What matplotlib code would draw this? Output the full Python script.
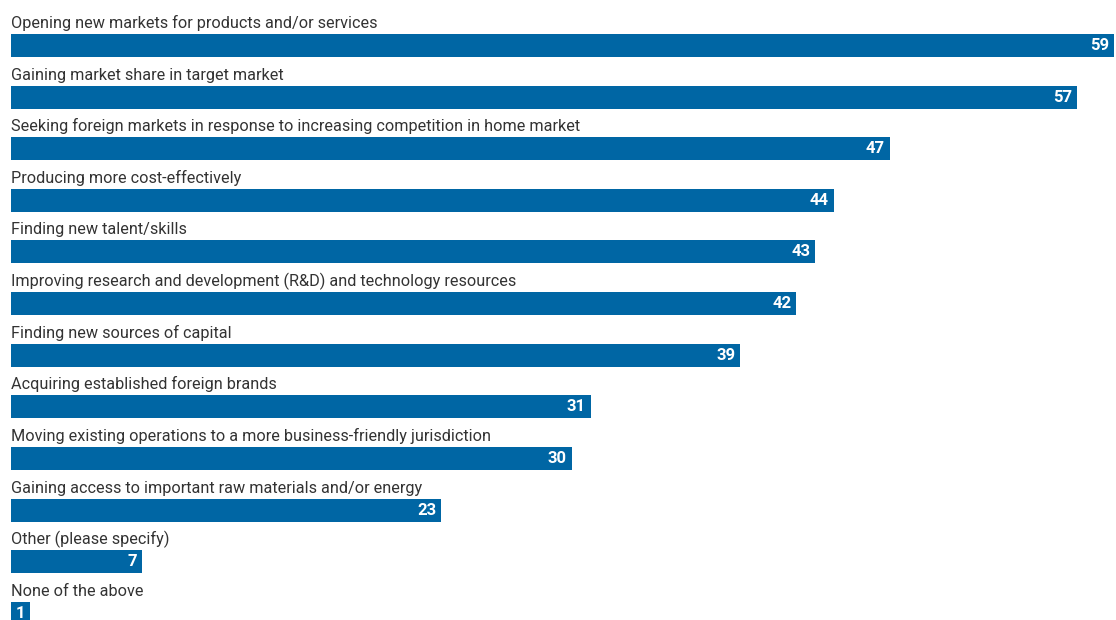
import matplotlib
matplotlib.use("Agg")
import matplotlib.pyplot as plt
from matplotlib.transforms import offset_copy

reasons = [
    "Opening new markets for products and/or services",
    "Gaining market share in target market",
    "Seeking foreign markets in response to increasing competition in home market",
    "Producing more cost-effectively",
    "Finding new talent/skills",
    "Improving research and development (R&D) and technology resources",
    "Finding new sources of capital",
    "Acquiring established foreign brands",
    "Moving existing operations to a more business-friendly jurisdiction",
    "Gaining access to important raw materials and/or energy",
    "Other (please specify)",
    "None of the above",
]
shares = [59, 57, 47, 44, 43, 42, 39, 31, 30, 23, 7, 1]

BAR_COLOR = "#0066a4"
TEXT_COLOR = "#333333"
FONTS = ["Roboto", "DejaVu Sans"]

fig = plt.figure(figsize=(11.16, 6.2), dpi=100)
ax = fig.add_axes([0, 0, 1, 1])

positions = list(range(len(reasons)))
ax.barh(positions, shares, height=0.446, color=BAR_COLOR, left=0)

for pos, label, value in zip(positions, reasons, shares):
    # category name sits just above its bar
    ax.text(0, pos - 0.34, label, ha="left", va="baseline",
            fontsize=11.7, color=TEXT_COLOR, family=FONTS)
    # value tucked inside the right end of the bar
    tr = offset_copy(ax.transData, fig=fig, x=-5, y=0, units="dots")
    ax.text(value, pos, str(value), ha="right", va="center",
            fontsize=12, fontweight="bold", color="white",
            family=FONTS, transform=tr)

ax.set_xlim(-11 / 18.7, 1105 / 18.7)
ax.set_ylim(11.13, -0.882)
ax.axis("off")

fig.savefig("out.png", dpi=100, facecolor="white")
